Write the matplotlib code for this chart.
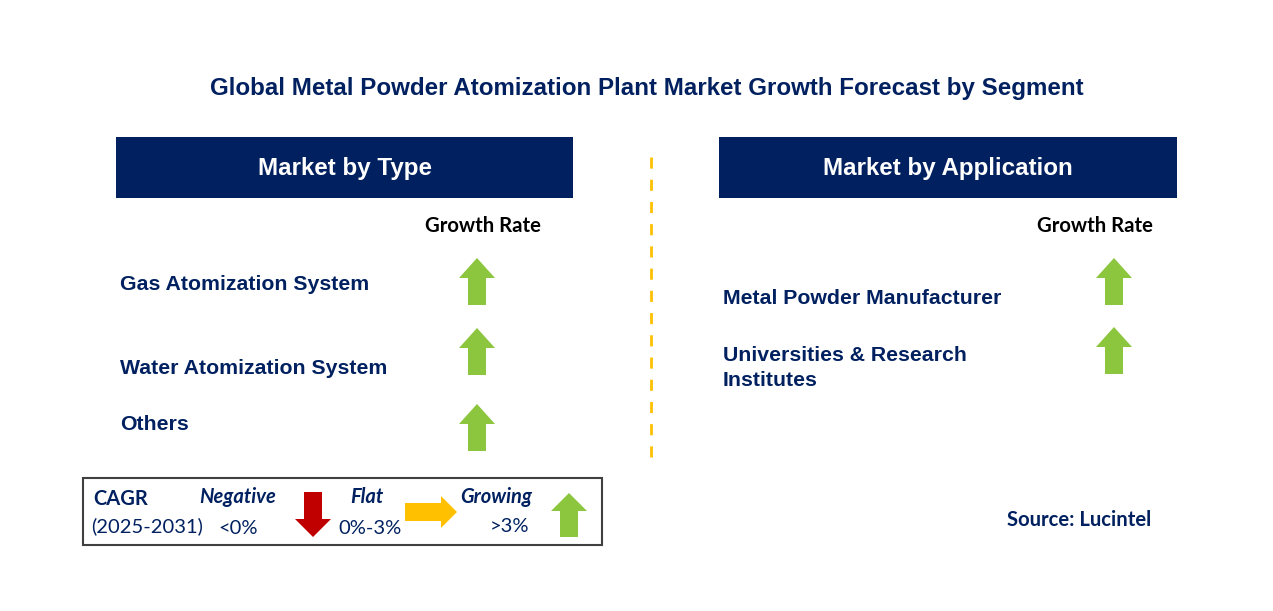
import matplotlib.pyplot as plt
from matplotlib.patches import Polygon, Rectangle

plt.rcParams["font.family"] = "Liberation Sans"

# Segment data
type_segments = ["Gas Atomization System", "Water Atomization System", "Others"]
type_growth = ["up", "up", "up"]
app_segments = ["Metal Powder Manufacturer", "Universities & Research\nInstitutes"]
app_growth = ["up", "up"]

NAVY = "#002060"
GREEN = "#8cc63f"
RED = "#c00000"
AMBER = "#ffc000"
CAL = "Lato"

fig = plt.figure(figsize=(12.73, 6.11), dpi=100)
ax = fig.add_axes([0, 0, 1, 1])
ax.set_xlim(0, 1273)
ax.set_ylim(611, 0)
ax.axis("off")


def arrow(cx, top, direction, color, w=36, h=47, shaft=18, head=20):
    if direction == "up":
        pts = [(cx, top), (cx + w / 2, top + head), (cx + shaft / 2, top + head),
               (cx + shaft / 2, top + h), (cx - shaft / 2, top + h),
               (cx - shaft / 2, top + head), (cx - w / 2, top + head)]
    elif direction == "down":
        b = top + h
        pts = [(cx, b), (cx + w / 2, b - head), (cx + shaft / 2, b - head),
               (cx + shaft / 2, top), (cx - shaft / 2, top),
               (cx - shaft / 2, b - head), (cx - w / 2, b - head)]
    else:  # right; cx is left edge, top is center y
        pts = [(cx + h, top), (cx + h - head, top - w / 2), (cx + h - head, top - shaft / 2),
               (cx, top - shaft / 2), (cx, top + shaft / 2),
               (cx + h - head, top + shaft / 2), (cx + h - head, top + w / 2)]
    ax.add_patch(Polygon(pts, closed=True, color=color, lw=0))


ax.text(647, 89, "Global Metal Powder Atomization Plant Market Growth Forecast by Segment",
        ha="center", va="center", fontsize=17.4, fontweight="bold", color=NAVY)

# Headers
for x0, x1, label in [(116, 573, "Market by Type"), (719, 1177, "Market by Application")]:
    ax.add_patch(Rectangle((x0, 137), x1 - x0, 61, color=NAVY, lw=0))
    ax.text((x0 + x1) / 2, 169, label, ha="center", va="center",
            fontsize=17.4, fontweight="bold", color="white")

ax.text(483, 226, "Growth Rate", ha="center", va="center", fontsize=14.6,
        fontweight="bold", color="black", family=CAL)
ax.text(1095, 226, "Growth Rate", ha="center", va="center", fontsize=14.6,
        fontweight="bold", color="black", family=CAL)

# Divider
ax.plot([651, 651], [157, 465], color=AMBER, lw=2, ls=(0, (4, 4)))

# Type segments
type_y = [284, 368, 424]
type_arrow_top = [258, 328, 404]
for name, g, y, t in zip(type_segments, type_growth, type_y, type_arrow_top):
    ax.text(120, y, name, ha="left", va="center", fontsize=15.3,
            fontweight="bold", color=NAVY)
    arrow(477, t, g, GREEN)

# Application segments
app_y = [298, 368]
app_arrow_top = [258, 327]
for name, g, y, t in zip(app_segments, app_growth, app_y, app_arrow_top):
    ax.text(723, y, name, ha="left", va="center", fontsize=15.3,
            fontweight="bold", color=NAVY, linespacing=1.4)
    arrow(1114, t, g, GREEN)

# Legend box
ax.add_patch(Rectangle((83, 478), 519, 67, fill=False, ec="#404040", lw=1.5))
ax.text(93, 499, "CAGR", ha="left", va="center", fontsize=14.5, fontweight="bold",
        color=NAVY, family=CAL)
ax.text(91, 526, "(2025-2031)", ha="left", va="center", fontsize=14.5, color=NAVY, family=CAL)
ax.text(238, 497, "Negative", ha="center", va="center", fontsize=14.5,
        fontweight="bold", style="italic", color=NAVY, family=CAL)
ax.text(238, 528, "<0%", ha="center", va="center", fontsize=14.5, color=NAVY, family=CAL)
arrow(313, 492, "down", RED, w=36, h=45, shaft=18, head=18)
ax.text(367, 497, "Flat", ha="center", va="center", fontsize=14.5,
        fontweight="bold", style="italic", color=NAVY, family=CAL)
ax.text(370, 528, "0%-3%", ha="center", va="center", fontsize=14.5, color=NAVY, family=CAL)
arrow(405, 512, "right", AMBER, w=32, h=52, shaft=18, head=16)
ax.text(496, 497, "Growing", ha="center", va="center", fontsize=14.5,
        fontweight="bold", style="italic", color=NAVY, family=CAL)
ax.text(510, 526, ">3%", ha="center", va="center", fontsize=14.5, color=NAVY, family=CAL)
arrow(569, 493, "up", GREEN, w=36, h=44, shaft=18, head=18)

ax.text(1079, 520, "Source: Lucintel", ha="center", va="center", fontsize=14.6,
        fontweight="bold", color=NAVY, family=CAL)

fig.savefig("out.png", dpi=100)
